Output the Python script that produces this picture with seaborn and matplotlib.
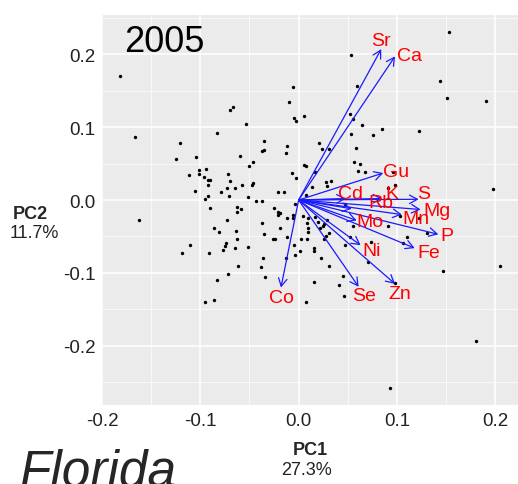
import matplotlib
matplotlib.use("Agg")
import matplotlib.pyplot as plt
import seaborn as sns
import pandas as pd
import numpy as np

# PCA sample scores (PC1, PC2)
pc1 = [-0.182, -0.070, -0.067, -0.054, -0.083, -0.166,
       0.053, -0.006, 0.059, -0.010, -0.005, -0.003, 0.005, 0.052, 0.055, 0.064, 0.053, 0.076, 0.085,
       0.153, 0.144, 0.151, 0.191, 0.122,
       -0.121, -0.104, -0.125, -0.060, -0.101, -0.094, -0.112, -0.101, -0.096, -0.092, -0.090, -0.072,
       -0.070, -0.058, -0.092, -0.073, -0.065, -0.105, -0.079, -0.071, -0.092, -0.095, -0.090, -0.063,
       -0.059, -0.063, -0.162, -0.073, -0.086, -0.081, -0.064, -0.063, -0.111, -0.074, -0.075, -0.077,
       -0.065, -0.119, -0.091, -0.062,
       -0.035, -0.012, 0.021, -0.037, -0.035, -0.013, 0.024, 0.031, 0.058, -0.050, -0.046, 0.005,
       0.007, 0.017, -0.007, -0.003, 0.056, 0.062, 0.060, 0.067, 0.028, 0.033, 0.029, -0.047, -0.046,
       0.014, -0.021, -0.015, 0.007, -0.051, -0.043, -0.037, -0.004, 0.047, -0.025, -0.021, -0.019,
       -0.021, -0.012, -0.006, -0.006, 0.004, 0.010, 0.017, 0.020, 0.029, -0.037, 0.009, -0.019,
       0.010, 0.022, 0.025, 0.026, -0.035, 0.010, 0.031, -0.026, -0.024, -0.012, 0.002, 0.009, 0.026,
       0.028, 0.047, 0.052, 0.074, -0.005, -0.051, 0.016, 0.016, 0.001, -0.013, -0.004, -0.036, 0.023,
       0.071, 0.031, -0.038, 0.055,
       0.096, 0.098, 0.091, 0.198, 0.103, 0.122, 0.091, 0.131, 0.110, 0.106, 0.205,
       -0.083, -0.072, -0.095, -0.086, -0.034, 0.016, 0.007, 0.041, 0.045, 0.046, 0.098, 0.147,
       0.180, 0.093]
pc2 = [0.170, 0.124, 0.127, 0.104, 0.092, 0.087,
       0.199, 0.155, 0.156, 0.134, 0.113, 0.108, 0.115, 0.118, 0.111, 0.103, 0.091, 0.089, 0.097,
       0.230, 0.163, 0.140, 0.136, 0.094,
       0.078, 0.059, 0.056, 0.061, 0.041, 0.043, 0.034, 0.036, 0.031, 0.028, 0.027, 0.035,
       0.026, 0.021, 0.021, 0.016, 0.016, 0.013, 0.011, 0.006, 0.005, 0.002, -0.011, -0.010,
       -0.013, -0.017, -0.028, -0.028, -0.038, -0.044, -0.042, -0.054, -0.062, -0.059, -0.063, -0.068,
       -0.066, -0.072, -0.072, -0.090,
       0.081, 0.074, 0.078, 0.067, 0.069, 0.065, 0.070, 0.070, 0.072, 0.046, 0.052, 0.048,
       0.047, 0.038, 0.037, 0.030, 0.052, 0.049, 0.040, 0.038, 0.025, 0.026, 0.019, 0.021, 0.023,
       0.018, 0.011, 0.011, 0.007, 0.004, -0.001, -0.001, -0.006, -0.006, -0.011, -0.016, -0.018,
       -0.021, -0.024, -0.021, -0.025, -0.022, -0.024, -0.023, -0.030, -0.027, -0.031, -0.031, -0.038,
       -0.039, -0.039, -0.036, -0.033, -0.046, -0.044, -0.045, -0.054, -0.054, -0.051, -0.054, -0.054, -0.054,
       -0.050, -0.062, -0.051, -0.057, -0.062, -0.065, -0.066, -0.070, -0.070, -0.079, -0.076, -0.080, -0.079,
       -0.085, -0.090, -0.092, -0.036,
       0.039, 0.020, 0.017, 0.015, -0.022, -0.024, -0.035, -0.045, -0.051, -0.059, -0.090,
       -0.110, -0.102, -0.140, -0.137, -0.106, -0.113, -0.140, -0.117, -0.104, -0.131, -0.114, -0.098,
       -0.194, -0.258]

# Variable loadings (arrow tips) and label anchor points
elements = ["Sr", "Ca", "Gu", "Cd", "K", "S", "Rb", "Mg", "Mn", "P", "Fe", "Mo", "Ni", "Se", "Zn", "Co"]
load_x = [0.084, 0.098, 0.086, 0.048, 0.085, 0.122, 0.054, 0.124, 0.105, 0.142, 0.118, 0.059, 0.063, 0.061, 0.098, -0.018]
load_y = [0.207, 0.197, 0.037, 0.002, 0.002, 0.001, -0.012, -0.013, -0.020, -0.047, -0.066, -0.028, -0.062, -0.119, -0.115, -0.120]
lab_x = [0.0837, 0.1127, 0.0992, 0.0525, 0.0948, 0.1269, 0.0837, 0.1411, 0.1195, 0.1507, 0.1320, 0.0728, 0.0738, 0.0667, 0.1032, -0.0176]
lab_y = [0.2185, 0.1980, 0.0388, 0.0092, 0.0092, 0.0092, -0.0032, -0.0137, -0.0251, -0.0480, -0.0717, -0.0298, -0.0686, -0.1313, -0.1276, -0.1335]

x_ticks = [-0.2, -0.1, 0.0, 0.1, 0.2]
y_ticks = [-0.2, -0.1, 0.0, 0.1, 0.2]

scores = pd.DataFrame({"PC1": pc1, "PC2": pc2})

sns.set_theme(style="darkgrid", rc={
    "axes.facecolor": "#EBEBEB",
    "grid.color": "white",
    "axes.edgecolor": "#EBEBEB",
    "axes.linewidth": 0,
})
plt.rcParams["font.family"] = ["Liberation Sans", "DejaVu Sans"]

fig = plt.figure(figsize=(5.18, 4.85), dpi=100)
ax = fig.add_axes([102 / 518, 1 - 406.3 / 485, (518 - 102) / 518, (406.3 - 15.7) / 485])

sns.scatterplot(data=scores, x="PC1", y="PC2", ax=ax, color="black", s=6, linewidth=0, zorder=3)

for name, lx, ly in zip(elements, load_x, load_y):
    ax.annotate("", xy=(lx, ly), xytext=(0, 0),
                arrowprops=dict(arrowstyle="->,head_length=0.4,head_width=0.22", color="#1A1AFF",
                                lw=0.9, shrinkA=0, shrinkB=0, mutation_scale=14),
                zorder=4)
for name, tx, ty in zip(elements, lab_x, lab_y):
    ax.text(tx, ty, name, color="#FF0000", fontsize=14, ha="center", va="center", zorder=5)

ax.set_xlim(-0.199, 0.2231)
ax.set_ylim(-0.2816, 0.2542)
ax.set_xticks(x_ticks)
ax.set_yticks(y_ticks)
ax.set_xticklabels([f"{v:.1f}" for v in x_ticks])
ax.set_yticklabels([f"{v:.1f}" for v in y_ticks])
ax.set_xticks([-0.15, -0.05, 0.05, 0.15], minor=True)
ax.set_yticks([-0.25, -0.15, -0.05, 0.05, 0.15, 0.25], minor=True)
ax.grid(which="major", color="white", lw=1.1)
ax.grid(which="minor", color="white", lw=0.5)
ax.tick_params(which="major", length=2.5, width=0.8, color="#333333", labelsize=13.5,
               labelcolor="#222222", pad=2)
ax.tick_params(which="minor", length=0)
ax.set_xlabel("")
ax.set_ylabel("")
for s in ax.spines.values():
    s.set_visible(False)

ax.text(-0.178, 0.2048, "2005", fontsize=26, color="black", ha="left", va="baseline")

fig.text(310 / 518, 1 - 455.5 / 485, "PC1", fontsize=13, fontweight="bold", ha="center", va="baseline")
fig.text(307 / 518, 1 - 475 / 485, "27.3%", fontsize=13, ha="center", va="baseline", color="#222222")
fig.text(30 / 518, 1 - 219 / 485, "PC2", fontsize=13, fontweight="bold", ha="center", va="baseline")
fig.text(34 / 518, 1 - 238 / 485, "11.7%", fontsize=13, ha="center", va="baseline", color="#222222")
fig.text(19 / 518, 1 - 486.5 / 485, "Florida", fontsize=37, style="italic", ha="left", va="baseline")

fig.savefig("out.png", dpi=100)
